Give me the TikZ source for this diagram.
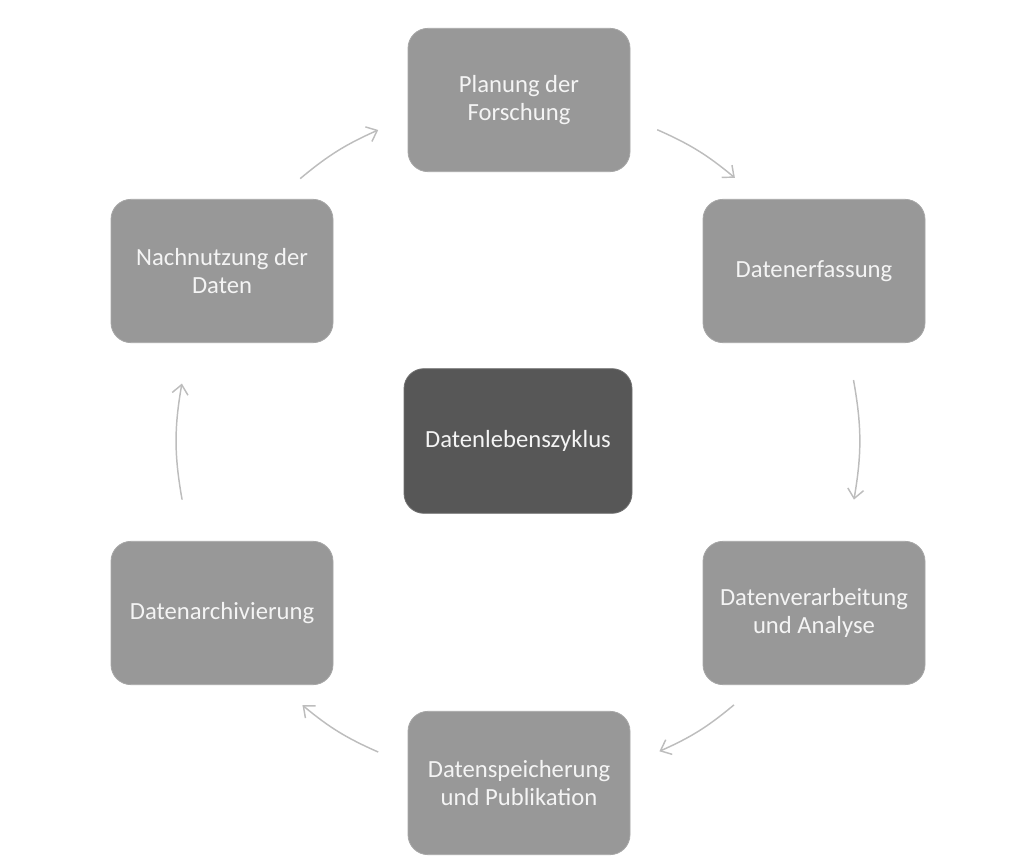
\documentclass[tikz,border=0pt]{standalone}
\usepackage{fontspec}
\setmainfont{Carlito}
\usetikzlibrary{calc,arrows.meta}
\definecolor{boxgray}{HTML}{989898}
\definecolor{boxdark}{HTML}{575757}
\definecolor{arrgray}{HTML}{BDBDBD}
\definecolor{txt}{HTML}{F4F4F4}
\begin{document}
\begin{tikzpicture}[x=0.75pt,y=-0.75pt,
  stepbox/.style={fill=boxgray,draw=boxgray!85!white,line width=0.6pt,rounded corners=15pt,
    minimum width=166.5pt,minimum height=107.5pt,align=center,text=txt,
    font=\fontsize{18.5}{21.5}\selectfont,inner sep=2pt},
  centerbox/.style={stepbox,fill=boxdark,draw=boxdark!85!white,minimum width=171pt,minimum height=108.5pt},
  cyc/.style={draw=arrgray,line width=1.1pt,-{Straight Barb[length=7pt,width=12pt,line width=1.1pt]}}]
\useasboundingbox (0,0) rectangle (1034,862);
\node[centerbox] (c) at (518,441) {Datenlebenszyklus};
\node[stepbox] (p) at (519,100) {Planung der\\Forschung};
\node[stepbox] (e) at (814,271) {Datenerfassung};
\node[stepbox] (v) at (814,613) {Datenverarbeitung\\und Analyse};
\node[stepbox] (s) at (519,783) {Datenspeicherung\\und Publikation};
\node[stepbox] (a) at (222,613) {Datenarchivierung};
\node[stepbox] (n) at (222,271) {Nachnutzung der\\Daten};
\def\R{255.75pt}
\coordinate (n1) at ($(c)+(129.7:\R)$);
\coordinate (p0) at ($(c)+(114.2:\R)$);
\coordinate (p1) at ($(c)+(65.9:\R)$);
\coordinate (e0) at ($(c)+(50.5:\R)$);
\coordinate (e1) at ($(c)+(10.3:\R)$);
\coordinate (v0) at ($(c)+(-9.9:\R)$);
\coordinate (v1) at ($(c)+(-50.7:\R)$);
\coordinate (s0) at ($(c)+(-65.5:\R)$);
\coordinate (s1) at ($(c)+(-114.2:\R)$);
\coordinate (a0) at ($(c)+(-129.2:\R)$);
\coordinate (a1) at ($(c)+(189.9:\R)$);
\coordinate (n0) at ($(c)+(170.3:\R)$);
\draw[cyc] (n1) to[bend left=8] (p0);
\draw[cyc] (p1) to[bend left=8] (e0);
\draw[cyc] (e1) to[bend left=10] (v0);
\draw[cyc] (v1) to[bend left=8] (s0);
\draw[cyc] (s1) to[bend left=8] (a0);
\draw[cyc] (a1) to[bend left=10] (n0);
\end{tikzpicture}
\end{document}
